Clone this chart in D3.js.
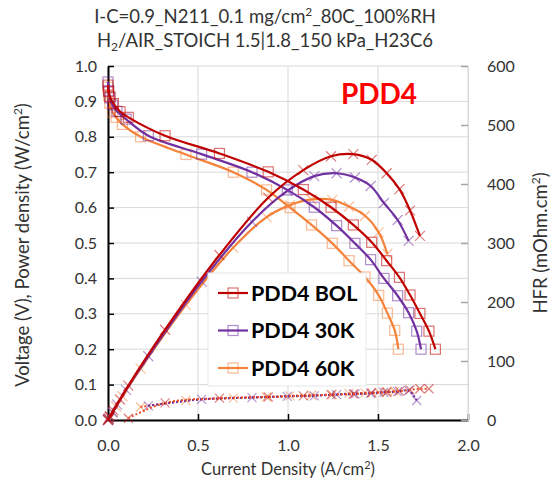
<html>
<head>
<meta charset="utf-8">
<title>PDD4</title>
<script src="https://d3js.org/d3.v7.min.js"></script>
<style>
  body { margin: 0; background: #fff; }
  text { font-family: Lato, 'Open Sans', sans-serif; }
</style>
</head>
<body>
<script>
// polarisation (square markers), current density A/cm2 and voltage V
var bolI = [0, 0.003, 0.011, 0.03, 0.067, 0.113, 0.317, 0.619, 0.89, 1.085, 1.239, 1.363, 1.465, 1.548, 1.619, 1.678, 1.733, 1.783, 1.819];
var bolV = [0.946, 0.928, 0.913, 0.894, 0.871, 0.855, 0.803, 0.753, 0.701, 0.651, 0.601, 0.551, 0.502, 0.45, 0.403, 0.353, 0.301, 0.251, 0.2];
var k30I = [0, 0.004, 0.01, 0.025, 0.05, 0.1, 0.224, 0.52, 0.80, 0.996, 1.146, 1.27, 1.372, 1.459, 1.533, 1.609, 1.67, 1.715, 1.739];
var k30V = [0.955, 0.93, 0.91, 0.89, 0.872, 0.85, 0.803, 0.751, 0.70, 0.65, 0.601, 0.549, 0.499, 0.453, 0.40, 0.351, 0.303, 0.251, 0.2];
var k60I = [0, 0.004, 0.01, 0.025, 0.045, 0.08, 0.181, 0.433, 0.696, 0.881, 1.011, 1.131, 1.246, 1.339, 1.428, 1.504, 1.552, 1.593, 1.613];
var k60V = [0.94, 0.915, 0.895, 0.87, 0.855, 0.835, 0.80, 0.75, 0.70, 0.65, 0.60, 0.551, 0.499, 0.45, 0.404, 0.352, 0.302, 0.253, 0.2];

// power density (x markers), W/cm2, same currents down to 0.3 V
var bolP = [0, 0.003, 0.01, 0.027, 0.058, 0.097, 0.255, 0.466, 0.628, 0.706, 0.745, 0.751, 0.735, 0.697, 0.652, 0.592, 0.52];
var k30P = [0, 0.004, 0.009, 0.022, 0.044, 0.085, 0.18, 0.391, 0.56, 0.647, 0.689, 0.697, 0.685, 0.661, 0.613, 0.565, 0.506];
var k60P = [0, 0.004, 0.009, 0.022, 0.038, 0.067, 0.145, 0.325, 0.487, 0.573, 0.607, 0.623, 0.622, 0.603, 0.577, 0.53, 0.469];

// HFR (dotted, right axis), mOhm.cm2
var bolHI = [0.113, 0.317, 0.619, 0.89, 1.085, 1.239, 1.363, 1.465, 1.548, 1.619, 1.678, 1.733, 1.783];
var bolH = [3, 29, 37, 39, 41, 43, 44, 46, 47, 49, 51, 53, 53];
var k30HI = [0.224, 0.52, 0.80, 0.996, 1.146, 1.27, 1.372, 1.459, 1.533, 1.609, 1.67, 1.715];
var k30H = [24, 35, 38, 40, 41, 43, 44, 45, 47, 48, 50, 33];
var k60HI = [0.181, 0.433, 0.696, 0.881, 1.011, 1.131, 1.246, 1.339, 1.428, 1.504, 1.552, 1.593];
var k60H = [22, 33, 37, 39, 41, 42, 43, 45, 46, 47, 48, 49];

var names = ["PDD4 BOL", "PDD4 30K", "PDD4 60K"];
var colors = ["#c00000", "#7030a0", "#f4823a"];
var xTicks = [0, 0.5, 1.0, 1.5, 2.0];
var yTicks = [0, 0.1, 0.2, 0.3, 0.4, 0.5, 0.6, 0.7, 0.8, 0.9, 1.0];
var y2Ticks = [0, 100, 200, 300, 400, 500, 600];

var width = 552, height = 489;
var L = 108, R = 468, T = 66, B = 420;

var x = d3.scaleLinear().domain([0, 2]).range([L, R]);
var y = d3.scaleLinear().domain([0, 1]).range([B, T]);
var y2 = d3.scaleLinear().domain([0, 600]).range([B, T]);

var svg = d3.select("body").append("svg")
  .attr("width", width).attr("height", height);

// grid
svg.append("g").selectAll("line").data(yTicks).enter().append("line")
  .attr("x1", L).attr("x2", R)
  .attr("y1", function(d) { return y(d); }).attr("y2", function(d) { return y(d); })
  .attr("stroke", "#d9d9d9").attr("stroke-width", 1);
svg.append("g").selectAll("line").data(xTicks).enter().append("line")
  .attr("x1", function(d) { return x(d); }).attr("x2", function(d) { return x(d); })
  .attr("y1", T).attr("y2", B)
  .attr("stroke", "#d9d9d9").attr("stroke-width", 1);

// axes
var fs = "16px";
var gx = svg.append("g").attr("transform", "translate(0," + B + ")")
  .call(d3.axisBottom(x).tickValues(xTicks).tickFormat(d3.format(".1f")).tickSizeInner(-6).tickSizeOuter(0).tickPadding(20));
var gy = svg.append("g").attr("transform", "translate(" + L + ",0)")
  .call(d3.axisLeft(y).tickValues(yTicks).tickFormat(d3.format(".1f")).tickSizeInner(-6).tickSizeOuter(0).tickPadding(11));
var gy2 = svg.append("g").attr("transform", "translate(" + R + ",0)")
  .call(d3.axisRight(y2).tickValues(y2Ticks).tickSizeInner(-7).tickSizeOuter(0).tickPadding(19));
[gx, gy].forEach(function(g) {
  g.select(".domain").attr("stroke", "#000").attr("stroke-width", 2);
  g.selectAll(".tick line").attr("stroke", "#000").attr("stroke-width", 1.5);
});
gy2.select(".domain").attr("stroke", "#d9d9d9").attr("stroke-width", 1);
gy2.selectAll(".tick line").attr("stroke", "#a6a6a6").attr("stroke-width", 1.5);
[gx, gy, gy2].forEach(function(g) {
  g.selectAll(".tick text").attr("font-size", fs).attr("fill", "#333")
    .attr("font-family", "Lato, sans-serif");
});

var smooth = d3.line().curve(d3.curveCatmullRom.alpha(0.5))
  .x(function(d) { return x(d[0]); });

function pairs(a, b) { return b.map(function(v, i) { return [a[i], v]; }); }

var polSets = [pairs(bolI, bolV), pairs(k30I, k30V), pairs(k60I, k60V)];
var powSets = [pairs(bolI, bolP), pairs(k30I, k30P), pairs(k60I, k60P)];
var hfrSets = [pairs(bolHI, bolH), pairs(k30HI, k30H), pairs(k60HI, k60H)];

function squares(g, data, col) {
  g.selectAll("rect.m").data(data).enter().append("rect")
    .attr("x", function(d) { return x(d[0]) - 5; })
    .attr("y", function(d) { return y(d[1]) - 5; })
    .attr("width", 10).attr("height", 10)
    .attr("fill", "none").attr("stroke", col).attr("stroke-opacity", 0.55).attr("stroke-width", 1.2);
}
function crosses(g, data, col, yy, s) {
  g.selectAll("path.m").data(data).enter().append("path")
    .attr("d", function(d) {
      var cx = x(d[0]), cy = yy(d[1]);
      return "M" + (cx - s) + "," + (cy - s) + "L" + (cx + s) + "," + (cy + s) +
             "M" + (cx - s) + "," + (cy + s) + "L" + (cx + s) + "," + (cy - s);
    })
    .attr("stroke", col).attr("stroke-opacity", 0.5).attr("stroke-width", 1.2).attr("fill", "none");
}

// HFR dotted lines
[2, 1, 0].forEach(function(k) {
  var g = svg.append("g");
  crosses(g, hfrSets[k], colors[k], y2, 4.5);
  g.append("path").datum(hfrSets[k])
    .attr("d", smooth.y(function(d) { return y2(d[1]); }))
    .attr("fill", "none").attr("stroke", k == 1 ? colors[1] : "#e8502a")
    .attr("stroke-width", 2).attr("stroke-dasharray", "2,2");
});

// power and polarisation
[2, 1, 0].forEach(function(k) {
  var g = svg.append("g");
  crosses(g, powSets[k], colors[k], y, 5);
  g.append("path").datum(powSets[k])
    .attr("d", smooth.y(function(d) { return y(d[1]); }))
    .attr("fill", "none").attr("stroke", colors[k]).attr("stroke-width", 2.2);
  squares(g, polSets[k], colors[k]);
  g.append("path").datum(polSets[k])
    .attr("d", smooth.y(function(d) { return y(d[1]); }))
    .attr("fill", "none").attr("stroke", colors[k]).attr("stroke-width", 2.2);
});

// legend
var lg = svg.append("g").attr("transform", "translate(208,273)");
lg.append("rect").attr("width", 158).attr("height", 113)
  .attr("fill", "#fff").attr("stroke", "#e6e6e6");
names.forEach(function(n, i) {
  var ry = 20 + i * 37.5;
  lg.append("line").attr("x1", 10).attr("x2", 40).attr("y1", ry).attr("y2", ry)
    .attr("stroke", colors[i]).attr("stroke-width", 2.2);
  lg.append("rect").attr("x", 20).attr("y", ry - 5).attr("width", 10).attr("height", 10)
    .attr("fill", "none").attr("stroke", colors[i]).attr("stroke-opacity", 0.55).attr("stroke-width", 1.2);
  lg.append("text").attr("x", 43).attr("y", ry + 7.5).text(n)
    .attr("font-size", "21.5px").attr("font-weight", "bold").attr("fill", "#000");
});

// PDD4 label
svg.append("text").attr("x", 379).attr("y", 104).attr("text-anchor", "middle")
  .attr("font-size", "28px").attr("font-weight", "bold").attr("fill", "#ff0000")
  .attr("font-family", "'Liberation Sans', Arial, sans-serif").text("PDD4");

// titles
var t1 = svg.append("text").attr("x", 265).attr("y", 23).attr("text-anchor", "middle")
  .attr("font-size", "18.5px").attr("fill", "#333");
t1.append("tspan").text("I-C=0.9_N211_0.1 mg/cm");
t1.append("tspan").attr("dy", -7).attr("font-size", "12px").text("2");
t1.append("tspan").attr("dy", 7).text("_80C_100%RH");

var t2 = svg.append("text").attr("x", 265).attr("y", 47).attr("text-anchor", "middle")
  .attr("font-size", "18.5px").attr("fill", "#333");
t2.append("tspan").text("H");
t2.append("tspan").attr("dy", 4).attr("font-size", "12px").text("2");
t2.append("tspan").attr("dy", -4).text("/AIR_STOICH 1.5|1.8_150 kPa_H23C6");

var xl = svg.append("text").attr("x", 288).attr("y", 475).attr("text-anchor", "middle")
  .attr("font-size", "16.5px").attr("fill", "#333");
xl.append("tspan").text("Current Density (A/cm");
xl.append("tspan").attr("dy", -6).attr("font-size", "11px").text("2");
xl.append("tspan").attr("dy", 6).text(")");

var yl = svg.append("text").attr("transform", "translate(29,245) rotate(-90)").attr("text-anchor", "middle")
  .attr("font-size", "18.5px").attr("fill", "#333");
yl.append("tspan").text("Voltage (V), Power density (W/cm");
yl.append("tspan").attr("dy", -7).attr("font-size", "12px").text("2");
yl.append("tspan").attr("dy", 7).text(")");

var yr = svg.append("text").attr("transform", "translate(547,243) rotate(-90)").attr("text-anchor", "middle")
  .attr("font-size", "18.5px").attr("fill", "#333");
yr.append("tspan").text("HFR (mOhm.cm");
yr.append("tspan").attr("dy", -7).attr("font-size", "12px").text("2");
yr.append("tspan").attr("dy", 7).text(")");
</script>
</body>
</html>
